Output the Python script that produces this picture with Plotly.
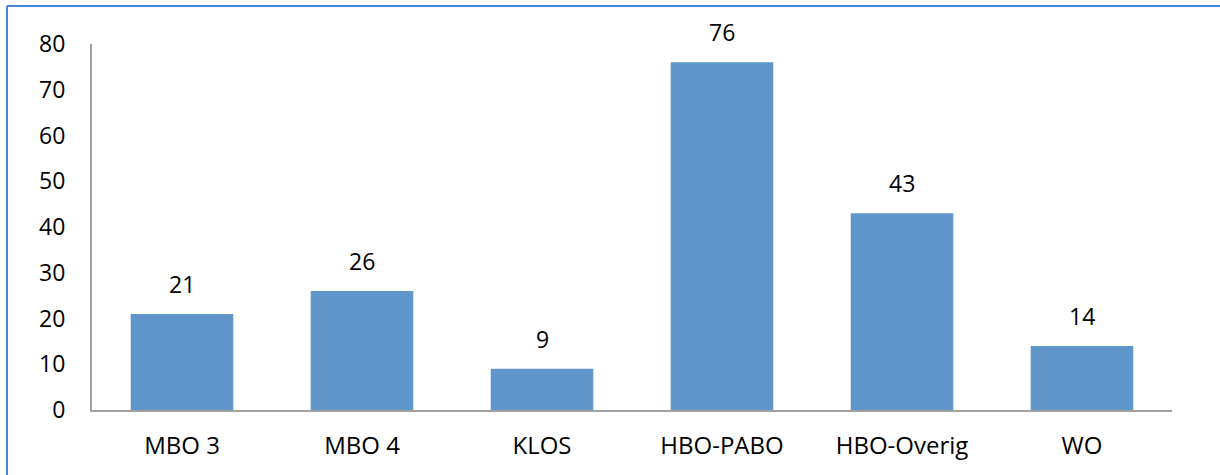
import plotly.graph_objects as go

categories = ["MBO 3", "MBO 4", "KLOS", "HBO-PABO", "HBO-Overig", "WO"]
values = [21, 26, 9, 76, 43, 14]
y_ticks = [0, 10, 20, 30, 40, 50, 60, 70, 80]

W, H = 1220, 475
ml, mr, mt, mb = 92, 48, 44, 65

fig = go.Figure(
    go.Bar(
        x=categories,
        y=values,
        marker=dict(color="#6096C9", line=dict(width=0)),
        hoverinfo="skip",
    )
)

# value labels above each bar
for c, v in zip(categories, values):
    fig.add_annotation(
        x=c, y=v, text=str(v), showarrow=False,
        yanchor="bottom", yshift=12,
        font=dict(family="Open Sans", size=23, color="#000000"),
    )

pw = W - ml - mr
ph = H - mt - mb
def px_x(p):
    return (p - ml) / pw
def px_y(p):
    return (H - mb - p) / ph

# outer frame: top and left edges
fig.add_shape(type="line", xref="paper", yref="paper",
              x0=px_x(7), x1=px_x(1220), y0=px_y(6), y1=px_y(6),
              line=dict(color="#4A86D6", width=2))
fig.add_shape(type="line", xref="paper", yref="paper",
              x0=px_x(7), x1=px_x(7), y0=px_y(6), y1=px_y(475),
              line=dict(color="#4A86D6", width=2))

fig.update_layout(
    width=W, height=H,
    margin=dict(l=ml, r=mr, t=mt, b=mb),
    paper_bgcolor="white", plot_bgcolor="white",
    bargap=0.43,
    showlegend=False,
    font=dict(family="Open Sans", size=23, color="#000000"),
)
fig.update_xaxes(
    showline=True, linecolor="#A0A0A0", linewidth=2,
    showgrid=False, ticks="", ticklabelstandoff=13,
    tickfont=dict(size=24),
)
fig.update_yaxes(
    range=[0, 80], tickvals=y_ticks,
    showline=True, linecolor="#A0A0A0", linewidth=2,
    showgrid=False, zeroline=False, ticks="", ticklabelstandoff=20,
    tickfont=dict(size=23),
)

fig.write_html("out.html")
